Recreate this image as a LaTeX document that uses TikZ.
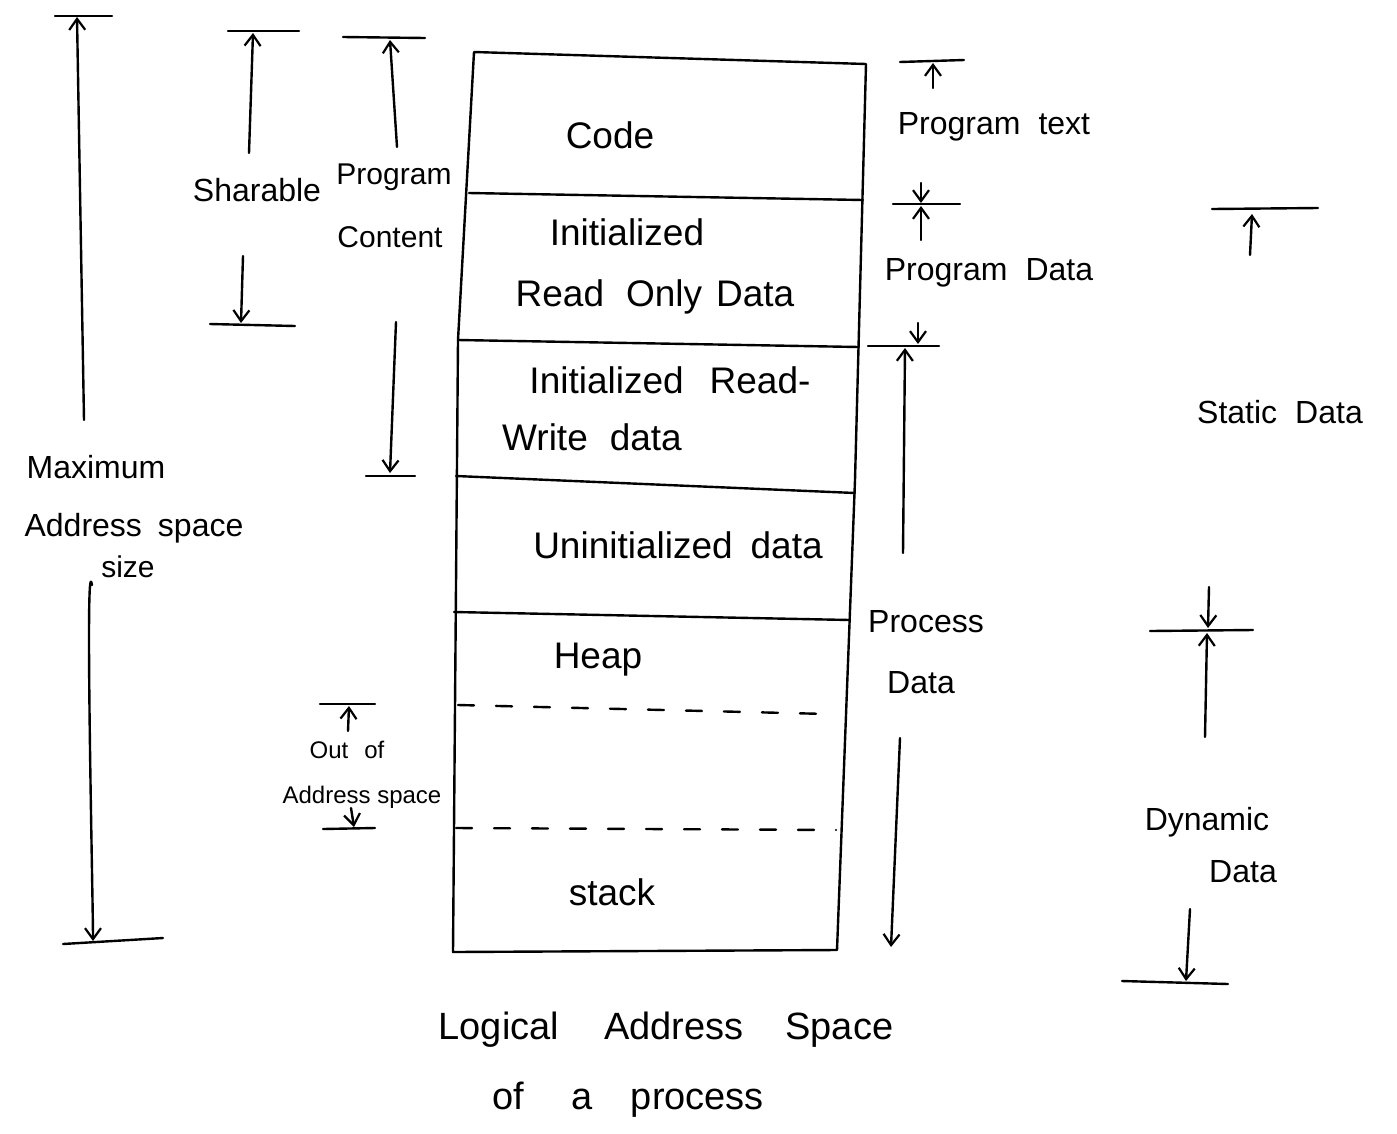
\documentclass[tikz,border=0pt]{standalone}
\usepackage{fontspec}
\setmainfont{Liberation Sans}
\usetikzlibrary{arrows.meta}
\begin{document}
\begin{tikzpicture}[x=1pt,y=-1pt,
  ln/.style={line width=2.4pt, line cap=round, line join=round},
  dim/.style={ln, -{Straight Barb[length=11pt,width=16pt,line width=2.2pt]}},
  dsh/.style={ln, dash pattern=on 16pt off 22pt},
  txt/.style={font=\fontsize{32}{38}\selectfont, inner sep=0pt},
  mid/.style={font=\fontsize{30}{36}\selectfont, inner sep=0pt},
  big/.style={font=\fontsize{37}{44}\selectfont, inner sep=0pt},
  captxt/.style={font=\fontsize{38}{46}\selectfont, inner sep=0pt},
  small/.style={font=\fontsize{24}{28}\selectfont, inner sep=0pt}]
\useasboundingbox[fill=white] (0,0) rectangle (1397,1133);

% ---------- memory box ----------
\coordinate (tl) at (474,52);
\coordinate (ml) at (458,340);
\coordinate (bl) at (453,952);
\coordinate (tr) at (866,64);
\coordinate (mr) at (855,480);
\coordinate (br) at (837,950);
\draw[ln] (tl) -- (tr) -- (mr) -- (br) -- (bl) -- (ml) -- cycle;

\coordinate (d1l) at (469,193); \coordinate (d1r) at (863,200);
\coordinate (d2l) at (458,340); \coordinate (d2r) at (859,347);
\coordinate (d3l) at (456,476); \coordinate (d3r) at (855,493);
\coordinate (d4l) at (454,612); \coordinate (d4r) at (850,620);
\coordinate (d5l) at (458,705); \coordinate (d5r) at (828,714);
\coordinate (d6l) at (456,828); \coordinate (d6r) at (836,830);
\draw[ln] (d1l) -- (d1r);
\draw[ln] (d2l) -- (d2r);
\draw[ln] (d3l) -- (d3r);
\draw[ln] (d4l) -- (d4r);
\draw[dsh] (d5l) -- (d5r);
\draw[dsh] (d6l) -- (d6r);

\node[big] (code)  at (610,135) {Code};
\node[big] (ini1)  at (627,232) {Initialized};
\node[big] (ro)    at (655,297) {Read\hspace{22pt}Only\hspace{14pt}Data};
\node[big] (ini2)  at (670,380) {Initialized\hspace{26pt}Read-};
\node[big] (rw)    at (592,437) {Write\hspace{22pt}data};
\node[big] (unini) at (678,545) {Uninitialized\hspace{18pt}data};
\node[big] (heap)  at (598,660) {Heap};
\node[big] (stack) at (612,892) {stack};

% ---------- caption ----------
\node[captxt] (cap1) at (666,1030) {Logical\hspace{45pt}Address\hspace{42pt}Space};
\node[captxt] (cap2) at (628,1100) {of\hspace{48pt}a\hspace{38pt}process};

% ---------- Maximum address space size ----------
\coordinate (mxa) at (55,16);  \coordinate (mxb) at (112,16);
\coordinate (mxs) at (84,420); \coordinate (mxe) at (77,17);
\coordinate (mys) at (92,585); \coordinate (mye) at (93,941);
\coordinate (mya) at (63,944); \coordinate (myb) at (163,938);
\draw[ln] (mxa) -- (mxb);
\draw[dim] (mxs) -- (mxe);
\draw[dim] (mys) to[out=100,in=90,looseness=0.3] (mye);
\draw[ln] (mya) -- (myb);
\node[txt] (max1) at (96,467) {Maximum};
\node[txt] (max2) at (134,528) {Address\hspace{16pt}space};
\node[mid] (max3) at (128,567) {size};

% ---------- Sharable ----------
\coordinate (sha) at (228,31);  \coordinate (shb) at (299,31);
\coordinate (shs) at (249,153); \coordinate (she) at (253,33);
\coordinate (sbs) at (243,256); \coordinate (sbe) at (241,323);
\coordinate (sba) at (210,324); \coordinate (sbb) at (295,326);
\draw[ln] (sha) -- (shb);
\draw[dim] (shs) -- (she);
\draw[dim] (sbs) -- (sbe);
\draw[ln] (sba) -- (sbb);
\node[txt] (shar) at (257,190) {Sharable};

% ---------- Program Content ----------
\coordinate (pca) at (343,37);  \coordinate (pcb) at (425,38);
\coordinate (pcs) at (397,147); \coordinate (pce) at (390,40);
\coordinate (pbs) at (396,322); \coordinate (pbe) at (390,473);
\coordinate (pba) at (366,476); \coordinate (pbb) at (415,476);
\draw[ln] (pca) -- (pcb);
\draw[dim] (pcs) -- (pce);
\draw[dim] (pbs) -- (pbe);
\draw[ln] (pba) -- (pbb);
\node[mid] (pc1) at (394,177) {Program};
\node[mid] (pc2) at (390,237) {Content};

% ---------- Out of Address space ----------
\coordinate (oua) at (320,704); \coordinate (oub) at (375,704);
\coordinate (ous) at (348,731); \coordinate (oue) at (349,706);
\coordinate (obs) at (351,808); \coordinate (obe) at (354,827);
\coordinate (oba) at (323,829); \coordinate (obb) at (375,828);
\draw[ln] (oua) -- (oub);
\draw[dim] (ous) -- (oue);
\draw[dim] (obs) -- (obe);
\draw[ln] (oba) -- (obb);
\node[small] (ou1) at (347,750) {Out\hspace{16pt}of};
\node[small] (ou2) at (362,797) {Address space};

% ---------- Program text / Program Data ----------
\coordinate (pta) at (900,62);  \coordinate (ptb) at (964,60);
\coordinate (pts) at (933,88);  \coordinate (pte) at (933,63);
\draw[ln] (pta) -- (ptb);
\draw[dim] (pts) -- (pte);
\node[txt] (ptxt) at (994,127) {Program\hspace{18pt}text};

\coordinate (pda) at (893,204); \coordinate (pdb) at (960,204);
\coordinate (pds) at (921,240); \coordinate (pde) at (921,206);
\coordinate (pus) at (921,183); \coordinate (pue) at (921,203);
\draw[ln] (pda) -- (pdb);
\draw[dim] (pds) -- (pde);
\draw[dim] (pus) -- (pue);
\node[txt] (pdat) at (989,273) {Program\hspace{18pt}Data};

\coordinate (qds) at (918,323); \coordinate (qde) at (918,344);
\coordinate (qda) at (868,346); \coordinate (qdb) at (939,346);
\draw[dim] (qds) -- (qde);
\draw[ln] (qda) -- (qdb);

% ---------- Process Data ----------
\coordinate (prs) at (903,553); \coordinate (pre) at (905,348);
\coordinate (pqs) at (900,738); \coordinate (pqe) at (891,947);
\draw[dim] (prs) -- (pre);
\draw[dim] (pqs) -- (pqe);
\node[txt] (pr1) at (926,622) {Process};
\node[txt] (pr2) at (921,683) {Data};

% ---------- Static Data ----------
\coordinate (sta) at (1212,209); \coordinate (stb) at (1318,208);
\coordinate (sts) at (1250,255); \coordinate (ste) at (1252,214);
\draw[ln] (sta) -- (stb);
\draw[dim] (sts) -- (ste);
\node[txt] (stat) at (1280,412) {Static\hspace{18pt}Data};

% ---------- Dynamic Data ----------
\coordinate (dya) at (1150,631); \coordinate (dyb) at (1253,630);
\coordinate (dys) at (1209,587); \coordinate (dye) at (1208,628);
\coordinate (dus) at (1205,737); \coordinate (due) at (1207,633);
\coordinate (dbs) at (1190,909); \coordinate (dbe) at (1186,981);
\coordinate (dba) at (1122,981); \coordinate (dbb) at (1228,984);
\draw[ln] (dya) -- (dyb);
\draw[dim] (dys) -- (dye);
\draw[dim] (dus) -- (due);
\draw[dim] (dbs) -- (dbe);
\draw[ln] (dba) -- (dbb);
\node[txt] (dy1) at (1207,822) {Dynamic};
\node[txt] (dy2) at (1243,872) {Data};
\end{tikzpicture}
\end{document}
